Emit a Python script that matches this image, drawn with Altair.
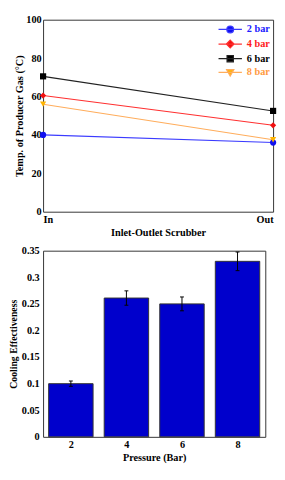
import altair as alt
import pandas as pd

FONT = "Liberation Serif"

# ---- top chart data ----
series = ["2 bar", "4 bar", "6 bar", "8 bar"]
stages = ["In", "Out"]
temp_in = [40.0, 60.5, 70.5, 56.0]
temp_out = [36.0, 45.0, 52.5, 37.5]
y_ticks_top = [0, 20, 40, 60, 80, 100]

line_colors = ["#3b3bff", "#ff3030", "#222222", "#ffad5c"]
marker_colors = ["#1010f0", "#f01010", "#000000", "#ffb400"]
label_colors = ["#2020ff", "#ff2020", "#000000", "#ff9a40"]
marker_shapes = ["circle", "diamond", "square", "triangle-down"]
legend_paths = [
    "M-2.4,0H2.4M0.7,0A0.7,0.7,0,1,1,-0.7,0A0.7,0.7,0,1,1,0.7,0Z",
    "M-2.4,0H2.4M0,-0.8L0.8,0L0,0.8L-0.8,0Z",
    "M-2.4,0H2.4M-0.65,-0.65H0.65V0.65H-0.65Z",
    "M-2.4,0H2.4M-0.75,-0.55H0.75L0,0.75Z",
]

# ---- bottom chart data ----
pressure = [2, 4, 6, 8]
effectiveness = [0.100, 0.261, 0.250, 0.330]
error = [0.005, 0.0135, 0.013, 0.0175]
y_ticks_bottom = [0, 0.05, 0.1, 0.15, 0.2, 0.25, 0.3, 0.35]

rows = []
for s, a, b in zip(series, temp_in, temp_out):
    rows.append({"series": s, "stage": stages[0], "temp": a})
    rows.append({"series": s, "stage": stages[1], "temp": b})
top_df = pd.DataFrame(rows)

bot_df = pd.DataFrame({"pressure": pressure, "eff": effectiveness, "err": error})

x_top = alt.X(
    "stage:N", sort=stages,
    scale=alt.Scale(type="point", padding=0),
    axis=alt.Axis(title="Inlet-Outlet Scrubber", labelAngle=0, labelFlush=True,
                  ticks=False, domain=False, labelPadding=3, titlePadding=3),
)
y_top = alt.Y(
    "temp:Q", scale=alt.Scale(domain=[0, 100], nice=False),
    axis=alt.Axis(values=y_ticks_top, title="Temp. of Producer Gas (°C)", labelOverlap=False,
                  ticks=False, domain=False, grid=False, labelPadding=2, titlePadding=1),
)

label_expr = " : ".join(
    f"datum.label == '{s}' ? '{c}'" for s, c in zip(series, label_colors)
) + " : 'black'"

legend = alt.Legend(
    title=None, orient="none", legendX=186, legendY=4, padding=0,
    symbolSize=100, symbolStrokeWidth=1.2, labelOffset=11, rowPadding=2,
    labelFont=FONT, labelFontWeight="bold", labelFontSize=10.5,
    labelColor=alt.ExprRef(label_expr),
)

lines = alt.Chart(top_df).mark_line(strokeWidth=1.1).encode(
    x=x_top, y=y_top,
    color=alt.Color("series:N", scale=alt.Scale(domain=series, range=line_colors), legend=None),
)
points = alt.Chart(top_df).mark_point(filled=True, size=40, opacity=1).encode(
    x=x_top, y=y_top,
    color=alt.Color("series:N", scale=alt.Scale(domain=series, range=marker_colors), legend=None),
    shape=alt.Shape("series:N", scale=alt.Scale(domain=series, range=marker_shapes), legend=None),
)
legend_layer = alt.Chart(top_df).transform_filter("false").mark_point(
    filled=True, size=100, strokeWidth=1.2, opacity=1
).encode(
    x=x_top, y=y_top,
    color=alt.Color("series:N", scale=alt.Scale(domain=series, range=marker_colors), legend=legend),
    stroke=alt.Stroke("series:N", scale=alt.Scale(domain=series, range=line_colors), legend=legend),
    shape=alt.Shape("series:N", scale=alt.Scale(domain=series, range=legend_paths), legend=legend),
)

top = alt.layer(lines, points, legend_layer).resolve_scale(
    color="independent", shape="independent", stroke="independent"
).properties(width=236, height=197)

# ---- bottom chart ----
base = alt.Chart(bot_df).transform_calculate(
    x0="datum.pressure - 0.8", x1="datum.pressure + 0.8",
    lo="datum.eff - datum.err", hi="datum.eff + datum.err",
    cl="datum.pressure - 0.07", cr="datum.pressure + 0.07", zero="0",
)
x_scale = alt.Scale(domain=[1, 9], nice=False)
y_scale = alt.Scale(domain=[0, 0.35], nice=False)
x_axis = alt.Axis(values=pressure, title="Pressure (Bar)", ticks=False, domain=False,
                  grid=False, labelPadding=3, titlePadding=3)
y_axis = alt.Axis(values=y_ticks_bottom, format="~g", title="Cooling Effectiveness",
                  labelOverlap=False, ticks=False, domain=False, grid=False,
                  labelPadding=4, titlePadding=3, titleFontSize=10)

bars = base.mark_bar(color="#0000cc", stroke="#333333", strokeWidth=1).encode(
    x=alt.X("x0:Q", scale=x_scale, axis=x_axis),
    x2="x1:Q",
    y=alt.Y("eff:Q", scale=y_scale, axis=y_axis),
    y2="zero:Q",
)
whisk = base.mark_rule(color="black", strokeWidth=1).encode(
    x=alt.X("pressure:Q", scale=x_scale, axis=x_axis),
    y=alt.Y("lo:Q", scale=y_scale, axis=y_axis), y2="hi:Q")
cap_hi = base.mark_rule(color="black", strokeWidth=1).encode(
    x=alt.X("cl:Q", scale=x_scale, axis=x_axis), x2="cr:Q",
    y=alt.Y("hi:Q", scale=y_scale, axis=y_axis))
cap_lo = base.mark_rule(color="black", strokeWidth=1).encode(
    x=alt.X("cl:Q", scale=x_scale, axis=x_axis), x2="cr:Q",
    y=alt.Y("lo:Q", scale=y_scale, axis=y_axis))

bottom = alt.layer(bars, whisk, cap_hi, cap_lo).properties(width=228, height=191)

chart = alt.concat(top, bottom, columns=1, spacing=6, align="none").properties(
    padding={"left": 0, "top": 0, "right": 0, "bottom": 0}
).configure_view(stroke="#333333", strokeWidth=1).configure_axis(
    labelFont=FONT, titleFont=FONT, labelFontWeight="bold", titleFontWeight="bold",
    labelFontSize=10.5, titleFontSize=10.5, labelColor="black", titleColor="black",
)

chart.save("out.html", embed_options={"renderer": "svg", "actions": False})
